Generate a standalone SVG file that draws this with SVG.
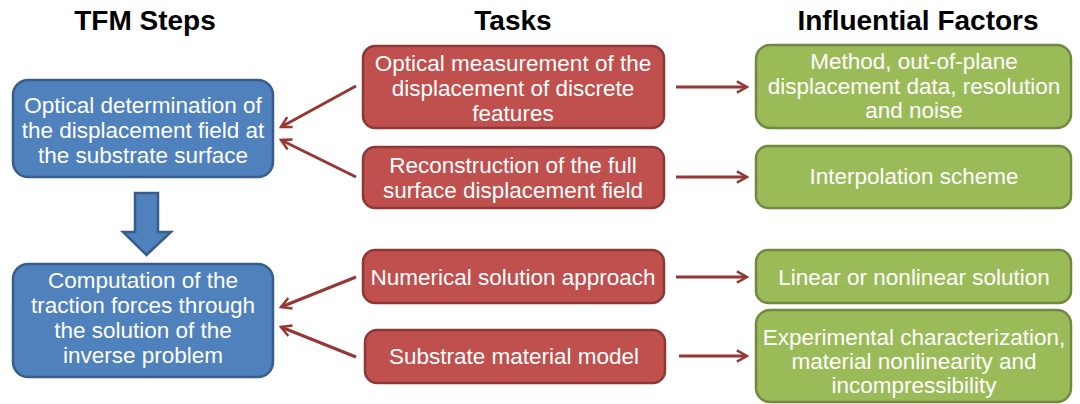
<svg xmlns="http://www.w3.org/2000/svg" width="1080" height="404" viewBox="0 0 1080 404">
<defs>
<style>
.hdr{font-family:"Liberation Sans",Arial,sans-serif;font-weight:bold;font-size:28px;fill:#000;text-anchor:middle}
.t{font-family:"Liberation Sans",Arial,sans-serif;font-size:22.5px;fill:#fff;text-anchor:middle}
.blue{fill:#4F81BD;stroke:#385D8A;stroke-width:2.5}
.red{fill:#C0504D;stroke:#8C3836;stroke-width:2.5}
.green{fill:#9BBB59;stroke:#71893F;stroke-width:2.5}
.con{stroke:#953735;stroke-width:3;fill:none;marker-end:url(#ah)}
</style>
<marker id="ah" viewBox="0 0 12 12" refX="10" refY="6" markerWidth="4.5" markerHeight="4.5" orient="auto" markerUnits="strokeWidth">
<path d="M1,1 L10,6 L1,11" fill="none" stroke="#953735" stroke-width="2.2"/>
</marker>
</defs>
<rect width="1080" height="404" fill="#fff"/>
<text class="hdr" x="145" y="30">TFM Steps</text>
<text class="hdr" x="513" y="30">Tasks</text>
<text class="hdr" x="918" y="30">Influential Factors</text>

<g id="step1">
<rect class="blue" x="13" y="80" width="260" height="97" rx="15"/>
<text class="t" x="143" y="113">Optical determination of</text>
<text class="t" x="143" y="138">the displacement field at</text>
<text class="t" x="143" y="163">the substrate surface</text>
</g>
<g id="step-arrow">
<path class="blue" d="M135,193 L158,193 L158,232 L171,232 L146.5,255 L123,232 L135,232 Z" stroke-width="1.5"/>
</g>
<g id="step2">
<rect class="blue" x="13" y="264" width="260" height="113" rx="15"/>
<text class="t" x="143" y="288">Computation of the</text>
<text class="t" x="143" y="313">traction forces through</text>
<text class="t" x="143" y="338">the solution of the</text>
<text class="t" x="143" y="363">inverse problem</text>
</g>

<g id="task1">
<rect class="red" x="363" y="46" width="301" height="82" rx="12"/>
<text class="t" x="513" y="71">Optical measurement of the</text>
<text class="t" x="513" y="96">displacement of discrete</text>
<text class="t" x="513" y="121">features</text>
</g>
<g id="task2">
<rect class="red" x="363" y="147" width="301" height="61" rx="12"/>
<text class="t" x="513" y="173">Reconstruction of the full</text>
<text class="t" x="513" y="198">surface displacement field</text>
</g>
<g id="task3">
<rect class="red" x="363" y="250" width="301" height="53" rx="12"/>
<text class="t" x="513" y="285">Numerical solution approach</text>
</g>
<g id="task4">
<rect class="red" x="365" y="330" width="300" height="53" rx="12"/>
<text class="t" x="514" y="364">Substrate material model</text>
</g>

<g id="factor1">
<rect class="green" x="756" y="45" width="315" height="83" rx="14"/>
<text class="t" x="914" y="69">Method, out-of-plane</text>
<text class="t" x="914" y="94">displacement data, resolution</text>
<text class="t" x="914" y="118">and noise</text>
</g>
<g id="factor2">
<rect class="green" x="756" y="146" width="315" height="62" rx="12"/>
<text class="t" x="914" y="184">Interpolation scheme</text>
</g>
<g id="factor3">
<rect class="green" x="756" y="250" width="315" height="53" rx="12"/>
<text class="t" x="914" y="285">Linear or nonlinear solution</text>
</g>
<g id="factor4">
<rect class="green" x="756" y="310" width="315" height="92" rx="14"/>
<text class="t" x="914" y="345">Experimental characterization,</text>
<text class="t" x="914" y="369">material nonlinearity and</text>
<text class="t" x="914" y="393">incompressibility</text>
</g>

<g id="connectors">
<line class="con" x1="356" y1="86" x2="281" y2="127"/>
<line class="con" x1="356" y1="177" x2="281" y2="140"/>
<line class="con" x1="356" y1="277" x2="281" y2="307"/>
<line class="con" x1="356" y1="357" x2="281" y2="327"/>
<line class="con" x1="676" y1="87" x2="747" y2="87"/>
<line class="con" x1="676" y1="177" x2="747" y2="177"/>
<line class="con" x1="676" y1="277" x2="747" y2="277"/>
<line class="con" x1="679" y1="356" x2="747" y2="356"/>
</g>
</svg>
